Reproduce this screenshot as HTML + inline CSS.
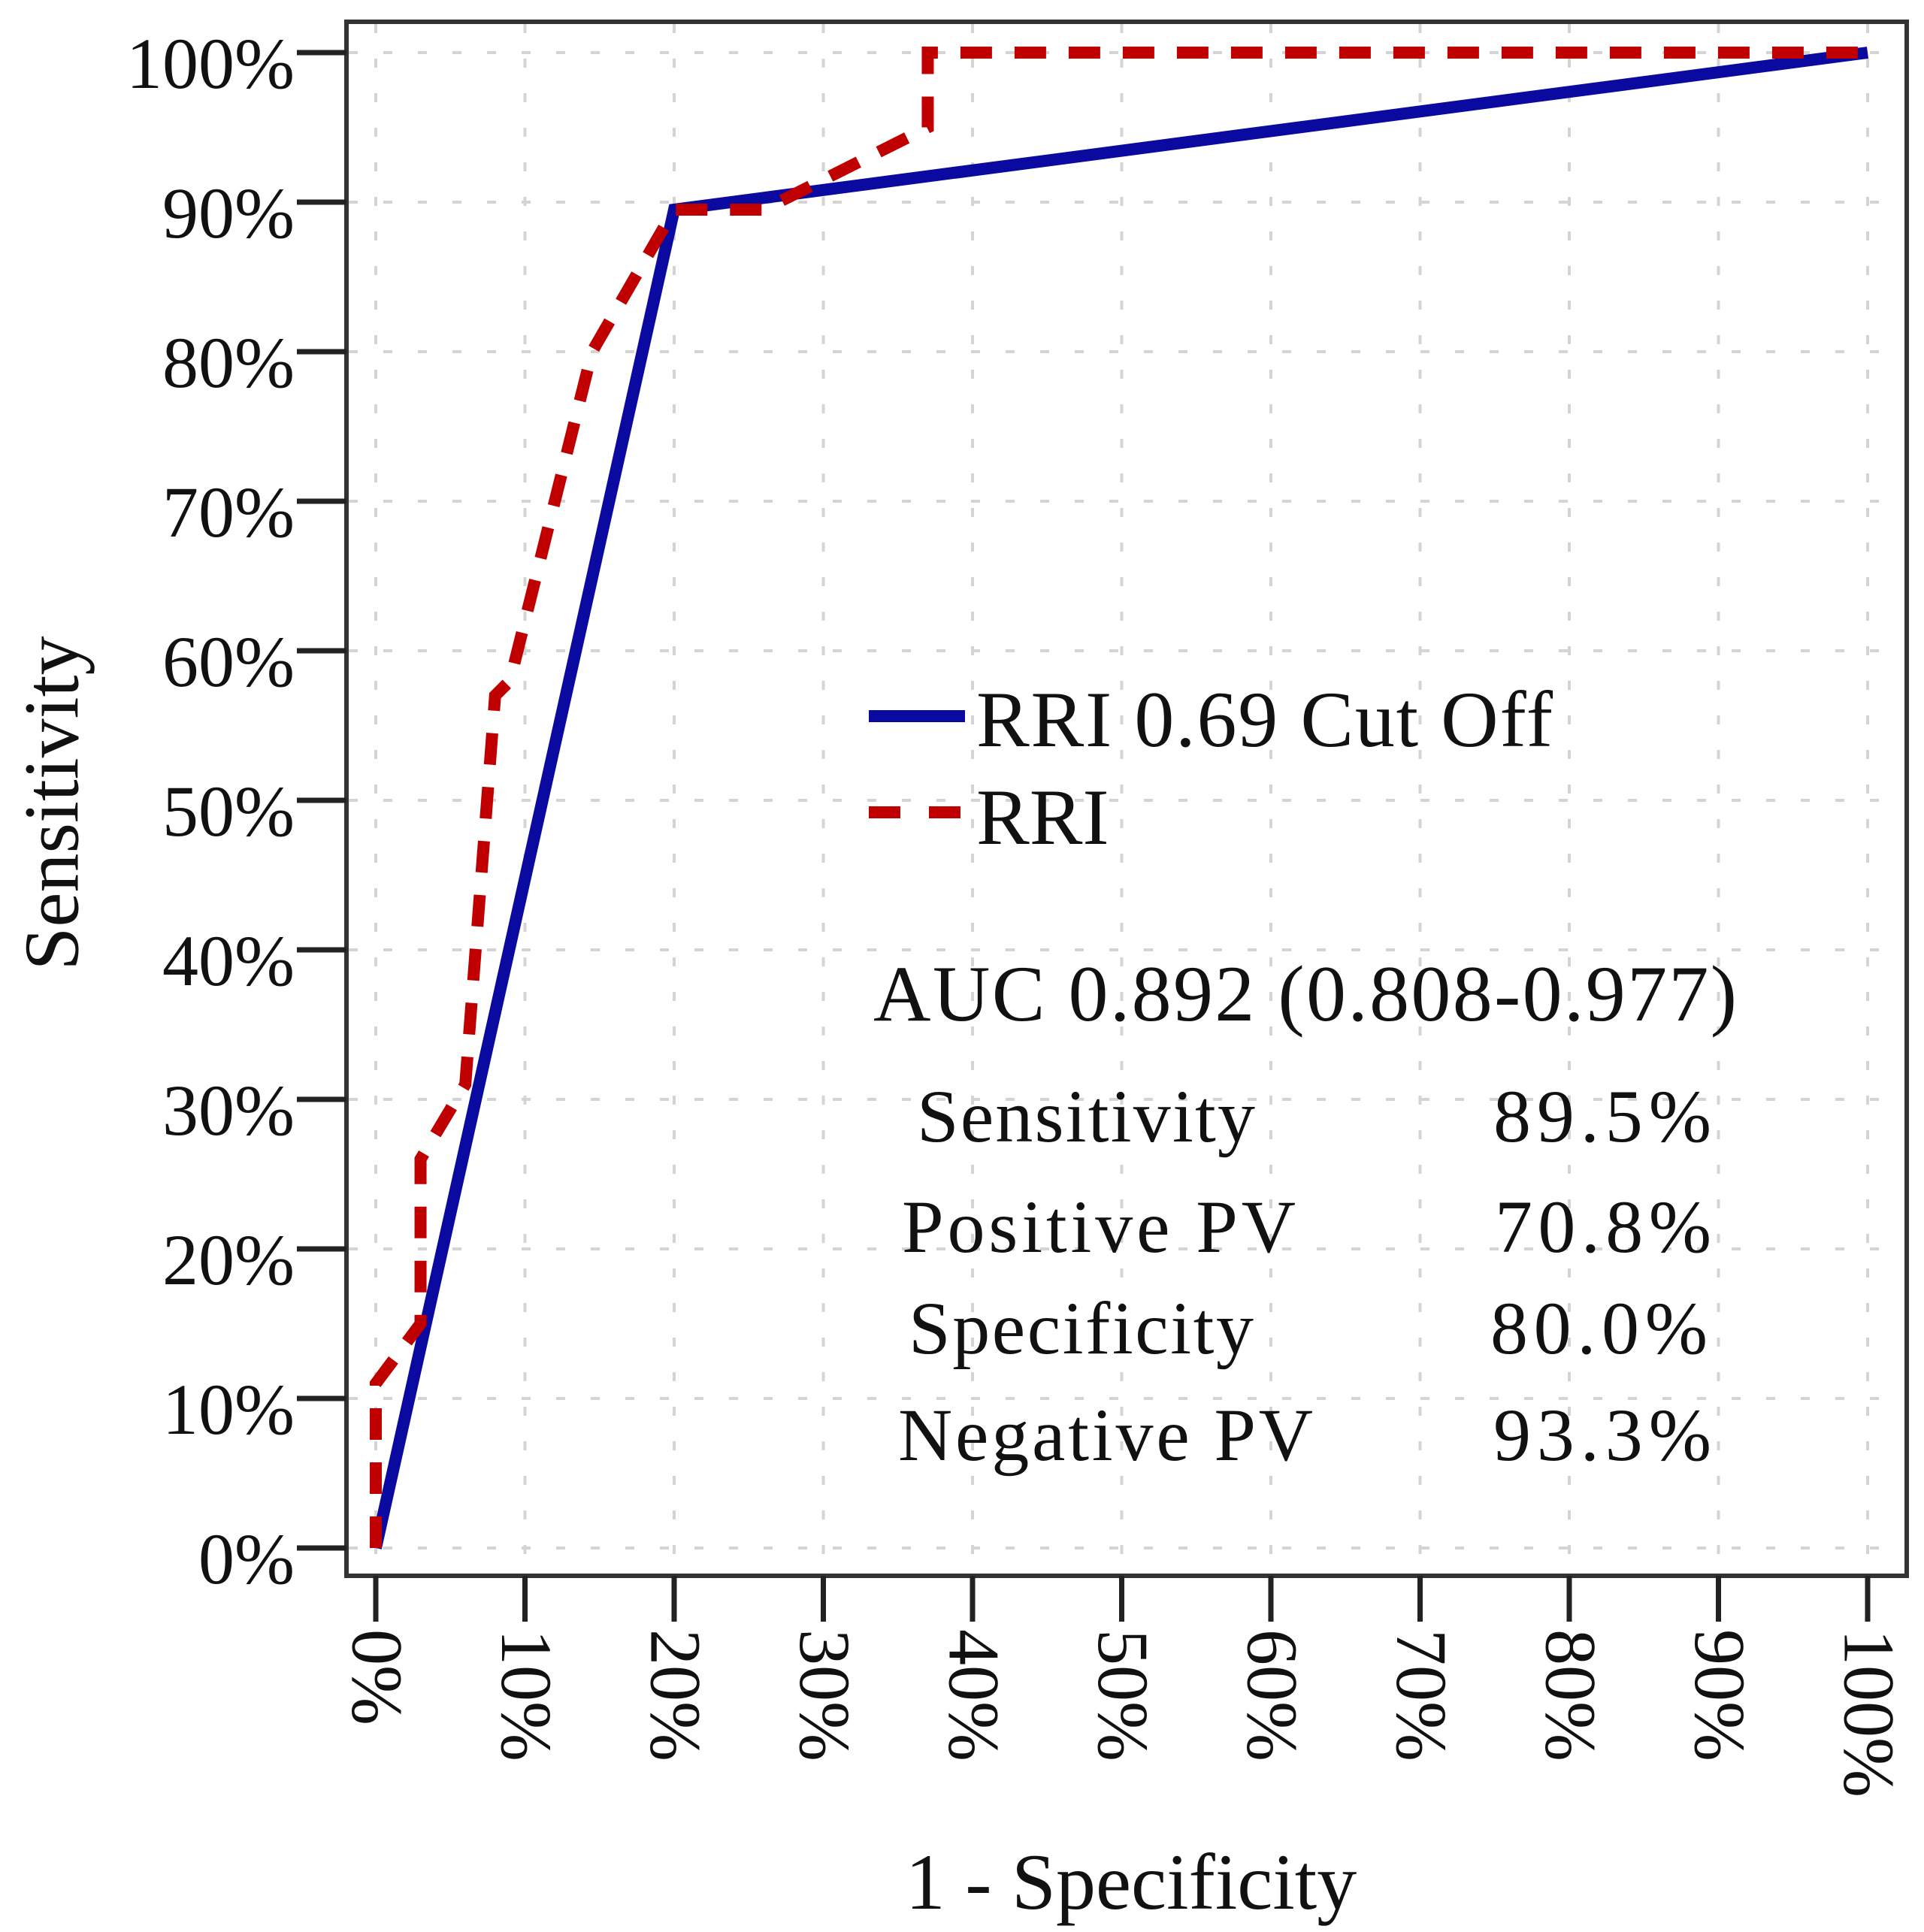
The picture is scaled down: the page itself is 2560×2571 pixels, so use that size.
<!DOCTYPE html>
<html><head><meta charset="utf-8"><style>
html,body{margin:0;padding:0;background:#fff;}
svg{display:block;}
text{font-family:"Liberation Serif",serif;fill:#111;}
</style></head><body>
<svg id="chart" width="2560" height="2571" viewBox="0 0 2560 2571" xmlns="http://www.w3.org/2000/svg">
<g id="grid"></g>
<g id="series"></g>
<rect x="461" y="29" width="2076" height="2068" fill="none" stroke="#333" stroke-width="6"/>
<g id="axes"></g>
<text x="69" y="1069" font-size="104" text-anchor="middle" transform="rotate(-90 69 1069)" dominant-baseline="central">Sensitivity</text>
<text x="1505" y="2540" font-size="106" text-anchor="middle">1 - Specificity</text>
<g>
<line x1="1156" y1="953" x2="1284" y2="953" stroke="#0a0aa0" stroke-width="16"/>
<text x="1299" y="993" font-size="106" textLength="767">RRI 0.69 Cut Off</text>
<line x1="1156" y1="1081" x2="1284" y2="1081" stroke="#c00000" stroke-width="16" stroke-dasharray="42,38"/>
<text x="1299" y="1123" font-size="106">RRI</text>
</g>
<g>
<text x="1162" y="1358" font-size="106" textLength="1149">AUC 0.892 (0.808-0.977)</text>
<text x="1220" y="1519" font-size="100" textLength="450">Sensitivity</text>
<text x="1987" y="1519" font-size="100" textLength="290">89.5%</text>
<text x="1200" y="1666" font-size="100" textLength="524">Positive PV</text>
<text x="1989" y="1666" font-size="100" textLength="288">70.8%</text>
<text x="1209" y="1801" font-size="100" textLength="459">Specificity</text>
<text x="1983" y="1801" font-size="100" textLength="289">80.0%</text>
<text x="1195" y="1943" font-size="100" textLength="552">Negative PV</text>
<text x="1987" y="1943" font-size="100" textLength="290">93.3%</text>
</g>
</svg>
<script>
const tickValues = [0,10,20,30,40,50,60,70,80,90,100];
const tickLabels = ["0%","10%","20%","30%","40%","50%","60%","70%","80%","90%","100%"];
const cutoffX = [0,20,100];
const cutoffY = [0,89.5,100];
const rriX = [0,0,3,3,6,8,9,14,14.5,20,26,29,37,37,100];
const rriY = [0,11,15,26,31,57,58,78,80,89.5,89.5,91,95,100,100];

const NS="http://www.w3.org/2000/svg";
const X0=500,X1=2485,Y0=2060,Y1=70;
function sx(v){return X0+(X1-X0)*v/100;}
function sy(v){return Y0+(Y1-Y0)*v/100;}
function mk(tag,attrs,parent){const e=document.createElementNS(NS,tag);for(const k in attrs)e.setAttribute(k,attrs[k]);parent.appendChild(e);return e;}
const grid=document.getElementById('grid'),axes=document.getElementById('axes'),series=document.getElementById('series');
tickValues.forEach((v,i)=>{
  const gx=mk('line',{x1:sx(v),y1:32,x2:sx(v),y2:2094,stroke:'#d4d4d4','stroke-width':4,'stroke-dasharray':'12,34'},grid);
  
  
  const gy=mk('line',{x1:464,y1:sy(v),x2:2534,y2:sy(v),stroke:'#d4d4d4','stroke-width':4,'stroke-dasharray':'12,34'},grid);
  
  
  const ty=mk('line',{x1:395,y1:sy(v),x2:461,y2:sy(v),stroke:'#222','stroke-width':7},axes);
  
  
  const ly=mk('text',{x:392,y:sy(v)+47,'font-size':96,'text-anchor':'end'},axes);
  ly.textContent=tickLabels[i];
  
  
  const tx=mk('line',{x1:sx(v),y1:2097,x2:sx(v),y2:2158,stroke:'#222','stroke-width':7},axes);
  
  
  const lx=mk('text',{x:sx(v)+2,y:2168,'font-size':96,'text-anchor':'start','dominant-baseline':'central',transform:`rotate(90 ${sx(v)+2} 2168)`},axes);
  lx.textContent=tickLabels[i];
  
  
});
function pts(xs,ys){return xs.map((x,i)=>sx(x)+','+sy(ys[i])).join(' ');}
const cut=mk('polyline',{points:pts(cutoffX,cutoffY),fill:'none',stroke:'#0a0aa0','stroke-width':16,'stroke-linejoin':'miter'},series);


const rri=mk('polyline',{points:pts(rriX,rriY),fill:'none',stroke:'#c00000','stroke-width':16,'stroke-dasharray':'42,30'},series);


</script>
</body></html>
